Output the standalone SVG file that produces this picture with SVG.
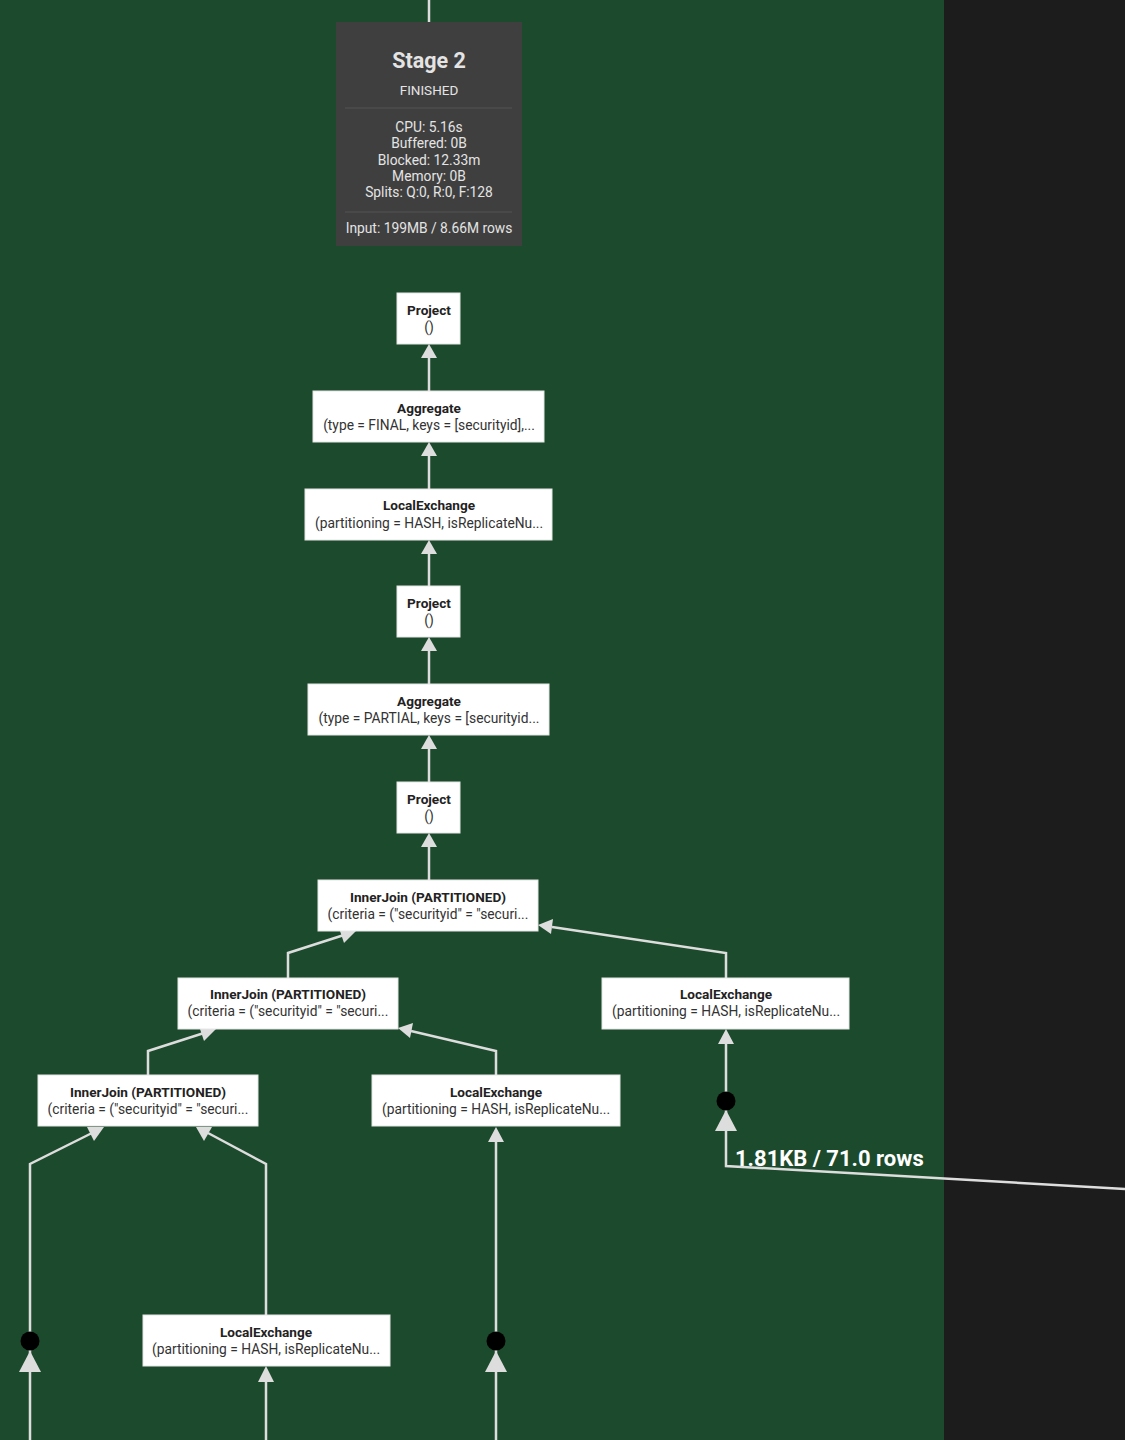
<svg xmlns="http://www.w3.org/2000/svg" width="1125" height="1440" viewBox="0 0 1125 1440">
  <style>
    .node rect { fill: #ffffff; stroke: #e6e6e6; stroke-width: 1; }
    .node text { font-family: Roboto, "Liberation Sans", sans-serif; font-size: 13.8px; fill: #333333; text-anchor: middle; }
    .node .title { font-weight: bold; fill: #222222; font-size: 13.6px; }
    .edge { fill: none; stroke: #dddddd; stroke-width: 2.5; }
    .head { fill: #dddddd; }
    .dot { fill: #000000; }
    .stage text { font-family: Roboto, "Liberation Sans", sans-serif; fill: #e4e4e4; text-anchor: middle; }
    .lbl { font-family: Roboto, "Liberation Sans", sans-serif; font-size: 22px; font-weight: bold; fill: #ffffff; }
  </style>

  <!-- backgrounds -->
  <rect x="0" y="0" width="1125" height="1440" fill="#1c1c1c"/>
  <rect x="0" y="0" width="944" height="1440" fill="#1c4a2c"/>

  <!-- connectors -->
  <g id="connectors">
    <line class="edge" x1="429" y1="0" x2="429" y2="22"/>
    <!-- vertical chain -->
    <line class="edge" x1="429" y1="356" x2="429" y2="391"/>
    <line class="edge" x1="429" y1="454" x2="429" y2="489"/>
    <line class="edge" x1="429" y1="552" x2="429" y2="586"/>
    <line class="edge" x1="429" y1="649" x2="429" y2="684"/>
    <line class="edge" x1="429" y1="747" x2="429" y2="782"/>
    <line class="edge" x1="429" y1="845" x2="429" y2="880"/>
    <polygon class="head" points="429,344 421,358 437,358"/>
    <polygon class="head" points="429,442 421,456 437,456"/>
    <polygon class="head" points="429,540 421,554 437,554"/>
    <polygon class="head" points="429,637 421,651 437,651"/>
    <polygon class="head" points="429,735 421,749 437,749"/>
    <polygon class="head" points="429,833 421,847 437,847"/>

    <!-- into top InnerJoin -->
    <polyline class="edge" points="288,978 288,953 344,935"/>
    <polygon class="head" points="356,931 339,928 344,943"/>
    <polyline class="edge" points="726,978 726,953 552,927"/>
    <polygon class="head" points="538,925 553,919 551,934"/>

    <!-- into middle InnerJoin -->
    <polyline class="edge" points="148,1075 148,1051 204,1033"/>
    <polygon class="head" points="216,1029 199,1026 204,1041"/>
    <polyline class="edge" points="496,1075 496,1051 411,1031"/>
    <polygon class="head" points="398,1028 413,1023 410,1038"/>

    <!-- into left InnerJoin -->
    <polyline class="edge" points="30,1440 30,1164 92,1133"/>
    <polygon class="head" points="104,1127 87,1127 94,1141"/>
    <polyline class="edge" points="266,1315 266,1164 208,1133"/>
    <polygon class="head" points="196,1127 204,1141 212,1127"/>

    <!-- into middle LocalExchange -->
    <line class="edge" x1="496" y1="1440" x2="496" y2="1138"/>
    <polygon class="head" points="496,1127 488,1142 504,1142"/>

    <!-- into right LocalExchange -->
    <polyline class="edge" points="1125,1189 726,1166 726,1040"/>
    <polygon class="head" points="726,1029 718,1044 734,1044"/>
    <polygon class="head" points="726,1110 715,1131 737,1131"/>
    <circle class="dot" cx="726" cy="1101" r="9.5"/>

    <!-- into bottom LocalExchange -->
    <line class="edge" x1="266" y1="1440" x2="266" y2="1378"/>
    <polygon class="head" points="266,1366 258,1382 274,1382"/>

    <!-- remote sources -->
    <polygon class="head" points="30,1351 19,1372 41,1372"/>
    <circle class="dot" cx="30" cy="1341" r="9.5"/>
    <polygon class="head" points="496,1351 485,1372 507,1372"/>
    <circle class="dot" cx="496" cy="1341" r="9.5"/>

    <text class="lbl" x="735" y="1166">1.81KB / 71.0 rows</text>
  </g>

  <!-- stage summary -->
  <g id="stage2" class="stage">
    <rect x="336" y="22" width="186" height="224" fill="#3f3f3f"/>
    <text x="429" y="68" font-size="21.5" font-weight="bold">Stage 2</text>
    <text x="429" y="95" font-size="13.5">FINISHED</text>
    <line x1="345" y1="108" x2="512" y2="108" stroke="#555555" stroke-width="1"/>
    <text x="429" y="132" font-size="13.8">CPU: 5.16s</text>
    <text x="429" y="148" font-size="13.8">Buffered: 0B</text>
    <text x="429" y="165" font-size="13.8">Blocked: 12.33m</text>
    <text x="429" y="181" font-size="13.8">Memory: 0B</text>
    <text x="429" y="197" font-size="13.8">Splits: Q:0, R:0, F:128</text>
    <line x1="345" y1="212" x2="512" y2="212" stroke="#555555" stroke-width="1"/>
    <text x="429" y="233" font-size="13.8">Input: 199MB / 8.66M rows</text>
  </g>

  <!-- plan nodes -->
  <g id="project-1" class="node">
    <rect x="397" y="293" width="63" height="51"/>
    <text class="title" x="429" y="315">Project</text>
    <text x="429" y="332">()</text>
  </g>
  <g id="aggregate-final" class="node">
    <rect x="313" y="391" width="231" height="51"/>
    <text class="title" x="429" y="413">Aggregate</text>
    <text x="429" y="430">(type = FINAL, keys = [securityid],...</text>
  </g>
  <g id="localexchange-1" class="node">
    <rect x="305" y="489" width="247" height="51"/>
    <text class="title" x="429" y="510">LocalExchange</text>
    <text x="429" y="528">(partitioning = HASH, isReplicateNu...</text>
  </g>
  <g id="project-2" class="node">
    <rect x="397" y="586" width="63" height="51"/>
    <text class="title" x="429" y="608">Project</text>
    <text x="429" y="625">()</text>
  </g>
  <g id="aggregate-partial" class="node">
    <rect x="308" y="684" width="241" height="51"/>
    <text class="title" x="429" y="706">Aggregate</text>
    <text x="429" y="723">(type = PARTIAL, keys = [securityid...</text>
  </g>
  <g id="project-3" class="node">
    <rect x="397" y="782" width="63" height="51"/>
    <text class="title" x="429" y="804">Project</text>
    <text x="429" y="821">()</text>
  </g>
  <g id="innerjoin-1" class="node">
    <rect x="318" y="880" width="220" height="51"/>
    <text class="title" x="428" y="902">InnerJoin (PARTITIONED)</text>
    <text x="428" y="919">(criteria = ("securityid" = "securi...</text>
  </g>
  <g id="innerjoin-2" class="node">
    <rect x="178" y="978" width="220" height="51"/>
    <text class="title" x="288" y="999">InnerJoin (PARTITIONED)</text>
    <text x="288" y="1016">(criteria = ("securityid" = "securi...</text>
  </g>
  <g id="localexchange-2" class="node">
    <rect x="602" y="978" width="247" height="51"/>
    <text class="title" x="726" y="999">LocalExchange</text>
    <text x="726" y="1016">(partitioning = HASH, isReplicateNu...</text>
  </g>
  <g id="innerjoin-3" class="node">
    <rect x="38" y="1075" width="220" height="51"/>
    <text class="title" x="148" y="1097">InnerJoin (PARTITIONED)</text>
    <text x="148" y="1114">(criteria = ("securityid" = "securi...</text>
  </g>
  <g id="localexchange-3" class="node">
    <rect x="372" y="1075" width="248" height="51"/>
    <text class="title" x="496" y="1097">LocalExchange</text>
    <text x="496" y="1114">(partitioning = HASH, isReplicateNu...</text>
  </g>
  <g id="localexchange-4" class="node">
    <rect x="143" y="1315" width="247" height="51"/>
    <text class="title" x="266" y="1337">LocalExchange</text>
    <text x="266" y="1354">(partitioning = HASH, isReplicateNu...</text>
  </g>
</svg>
